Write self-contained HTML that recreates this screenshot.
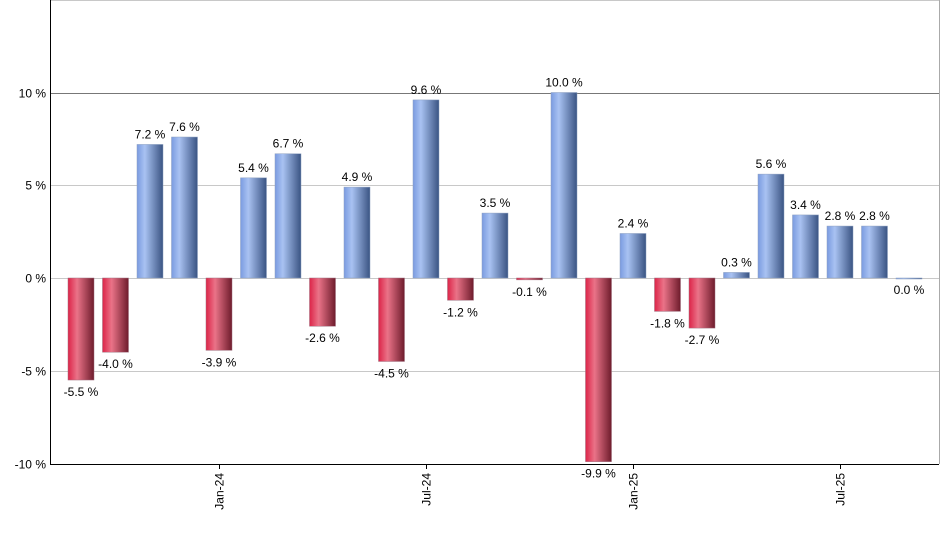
<!DOCTYPE html>
<html><head><meta charset="utf-8"><style>
body{margin:0;background:#fff;}
svg text{font-family:"Liberation Sans",sans-serif;font-size:12px;fill:#000;}
</style></head><body>
<svg width="940" height="550">
<defs>
<linearGradient id="gPos" x1="0" x2="1" y1="0" y2="0"><stop offset="0" stop-color="#7a9be0"/><stop offset="0.3" stop-color="#a9c2f2"/><stop offset="1" stop-color="#3a5483"/></linearGradient>
<linearGradient id="gNeg" x1="0" x2="1" y1="0" y2="0"><stop offset="0" stop-color="#dc2448"/><stop offset="0.35" stop-color="#ea7388"/><stop offset="1" stop-color="#6e1c2c"/></linearGradient>
</defs>
<g id="grid"></g><g id="bars"></g><g id="axes"></g>
</svg>
<script>
const values=[-5.5,-4.0,7.2,7.6,-3.9,5.4,6.7,-2.6,4.9,-4.5,9.6,-1.2,3.5,-0.1,10.0,-9.9,2.4,-1.8,-2.7,0.3,5.6,3.4,2.8,2.8,0.0];
const yTicks=[-10,-5,0,5,10,15];
const xTickLabels=["Jan-24","Jul-24","Jan-25","Jul-25"];
const xTickIndex=[4,10,16,22];
const NS="http://www.w3.org/2000/svg";
const plotL=50,plotR=939,plotT=0,plotB=464;
const y=v=>278-v*18.55;
const xc=i=>81+i*34.5;
function mk(tag,attrs,parent){const e=document.createElementNS(NS,tag);for(const k in attrs)e.setAttribute(k,attrs[k]);parent.appendChild(e);return e;}
const grid=document.getElementById('grid'),bars=document.getElementById('bars'),axes=document.getElementById('axes');
yTicks.forEach(t=>{
 const yy=Math.round(y(t))+0.5;
 const l=mk('line',{x1:plotL,x2:plotR,y1:yy,y2:yy,stroke:t===10?'#777':'#c8c8c8'},grid);
 
 
 if(t<15){const tx=mk('text',{x:plotL-4,y:yy+4,'text-anchor':'end'},axes);tx.textContent=t+' %';
 
 }
});
values.forEach((v,i)=>{
 const x0=xc(i)-13,w=26;
 const y0=Math.min(y(v),y(0)),h=Math.max(Math.abs(y(v)-y(0)),1);
 const r=mk('rect',{x:x0,y:y0,width:w,height:h,fill:v>=0?'url(#gPos)':'url(#gNeg)',stroke:v>=0?'#8da0c0':'#a07080','stroke-width':0.5},bars);
 
 
 const ty=v>0?y(v)-6:y(v)+16;
 const t=mk('text',{x:xc(i),y:ty,'text-anchor':'middle'},bars);
 t.textContent=v.toFixed(1)+' %';
 
 
});
mk('line',{x1:plotL+0.5,x2:plotL+0.5,y1:plotT,y2:plotB,stroke:'#000'},axes);
mk('line',{x1:plotL,x2:plotR,y1:plotB+0.5,y2:plotB+0.5,stroke:'#000'},axes);
mk('line',{x1:plotR+0.5,x2:plotR+0.5,y1:plotT,y2:plotB,stroke:'#aaa'},axes);
xTickIndex.forEach((idx,k)=>{
 const xx=Math.round(xc(idx))+0.5;
 mk('line',{x1:xx,x2:xx,y1:plotB,y2:plotB+5,stroke:'#000'},axes);
 const t=mk('text',{x:0,y:0,'text-anchor':'end',transform:`translate(${xx+4},${plotB+9}) rotate(-90)`},axes);
 t.textContent=xTickLabels[k];
 
 
});
</script>
</body></html>
